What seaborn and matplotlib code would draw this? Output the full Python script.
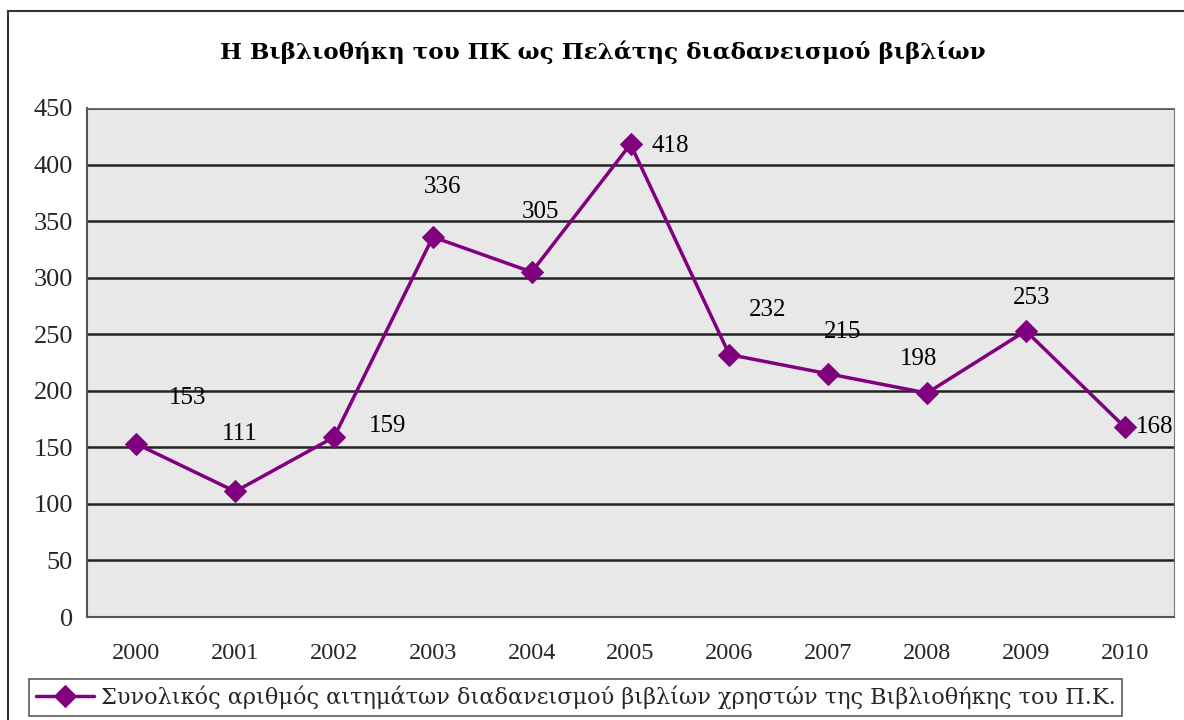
import numpy as np
import pandas as pd
import matplotlib
matplotlib.use("Agg")
import matplotlib.pyplot as plt
from matplotlib.patches import Rectangle
import seaborn as sns

years = ['2000', '2001', '2002', '2003', '2004', '2005', '2006', '2007', '2008', '2009', '2010']
requests = [153, 111, 159, 336, 305, 418, 232, 215, 198, 253, 168]
title = 'Η Βιβλιοθήκη του ΠΚ ως Πελάτης διαδανεισμού βιβλίων'
series_name = 'Συνολικός αριθμός αιτημάτων διαδανεισμού βιβλίων χρηστών της Βιβλιοθήκης του Π.Κ.'

# where excel happened to put the data labels (pixels from the marker)
label_offsets = [(51, 46), (5, 57), (54, 11), (10, 50), (9, 60), (40, -2),
                 (38, 45), (14, 42), (-8, 34), (6, 33), (30, 0)]

sns.set_style('white')
plt.rcParams['font.family'] = ['Liberation Serif', 'DejaVu Serif']
greek_font = ['DejaVu Serif']

df = pd.DataFrame({'pos': np.arange(len(years)), 'year': years, 'value': requests})

fig = plt.figure(figsize=(11.84, 7.2), dpi=100)
ax = fig.add_axes([87 / 1184, 1 - 617 / 720, (1174 - 87) / 1184, (617 - 108) / 720])
ax.set_facecolor('#e8e8e8')

sns.lineplot(data=df, x='pos', y='value', ax=ax, color='#800080', lw=2.5,
             marker='D', markersize=11, markeredgecolor='#800080', label=series_name,
             legend=False, zorder=5)

for i, (p, v) in enumerate(zip(df['pos'], df['value'])):
    dx, dy = label_offsets[i]
    ax.annotate(str(v), (p, v), xytext=(dx, dy), textcoords='offset pixels',
                ha='center', va='center', fontsize=18, color='black', zorder=6)

ax.set_xlim(-0.5, len(years) - 0.5)
ax.set_ylim(0, 450)
ax.set_yticks(range(0, 451, 50))
ax.yaxis.grid(True, color='#222222', lw=1.8)
ax.xaxis.grid(False)
ax.set_axisbelow(True)

ax.set_xticks(df['pos'])
ax.set_xticklabels(years, fontsize=17.5)
ax.tick_params(axis='x', which='major', length=0, pad=19)
ax.set_xticks(np.arange(-0.5, len(years)), minor=True)
ax.tick_params(axis='x', which='minor', length=7, width=1, color='#444444', direction='out')
ax.tick_params(axis='y', length=7, width=1, color='#444444', direction='out', labelsize=19, pad=3)
ax.set_xlabel('')
ax.set_ylabel('')

for s in ['left', 'bottom']:
    ax.spines[s].set_color('#555555')
    ax.spines[s].set_linewidth(1.5)
ax.spines['top'].set_color('#777777')
ax.spines['right'].set_color('#777777')

fig.text(0.509, 0.928, title, ha='center', va='center', fontsize=16.7, fontweight='bold',
         family=greek_font, color='black')

handles = ax.get_lines()[:1]
leg = fig.legend(handles, [series_name], loc='lower left', bbox_to_anchor=(25 / 1184, 0.0),
                 frameon=True, fancybox=False, borderaxespad=0.2,
                 prop={'family': greek_font, 'size': 16.1},
                 handlelength=2.6, handletextpad=0.3, borderpad=0.3)
leg.get_frame().set_edgecolor('#333333')
leg.get_frame().set_linewidth(1.2)

fig.patches.append(Rectangle((8 / 1184, -0.2), 1.2, 1.2 - 11 / 720,
                             transform=fig.transFigure, fill=False,
                             edgecolor='#333333', lw=1.5, clip_on=False))

fig.savefig('out.png', dpi=100)
